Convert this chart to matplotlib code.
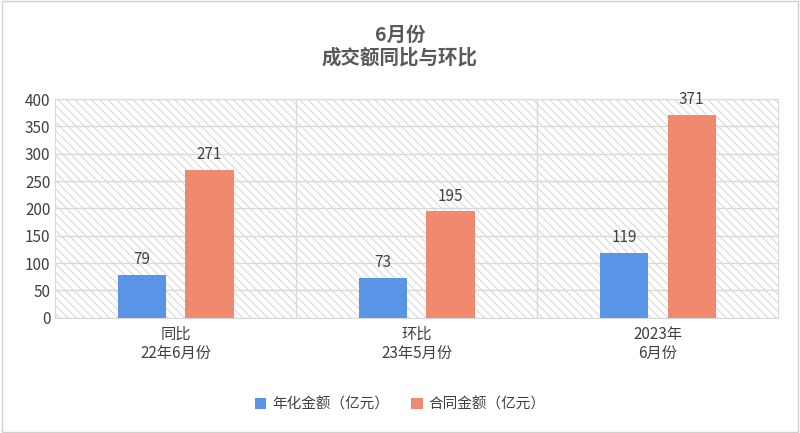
import matplotlib
matplotlib.use("Agg")
import matplotlib.pyplot as plt
import numpy as np
from matplotlib.patches import Rectangle

plt.rcParams['font.family'] = ['Noto Sans CJK SC', 'DejaVu Sans']

categories = ["同比\n22年6月份", "环比\n23年5月份", "2023年\n6月份"]
annual = [79, 73, 119]
contract = [271, 195, 371]
series_names = ["年化金额（亿元）", "合同金额（亿元）"]
blue = "#5b94e6"
orange = "#f08a6f"

fig = plt.figure(figsize=(8, 4.33), dpi=100)
fig.patch.set_facecolor("white")
fig.add_artist(Rectangle((0.002, 0.002), 0.996, 0.996, transform=fig.transFigure,
                         fill=False, edgecolor="#d0d0d0", lw=1))
ax = fig.add_axes([0.069, 0.266, 0.904, 0.505])
plt.rcParams['hatch.color'] = '#d9d9d9'
plt.rcParams['hatch.linewidth'] = 0.8
ax.add_patch(Rectangle((0, 0), 1, 1, transform=ax.transAxes, facecolor="white",
                       hatch="\\\\\\\\", edgecolor="#d9d9d9", lw=0, zorder=0))
x = np.arange(len(categories))
w = 0.2
b1 = ax.bar(x - 0.14, annual, w, color=blue, zorder=3, label=series_names[0])
b2 = ax.bar(x + 0.14, contract, w, color=orange, zorder=3, label=series_names[1])
for bars in (b1, b2):
    for r in bars:
        ax.text(r.get_x() + r.get_width() / 2, r.get_height() + 12, f"{int(r.get_height())}",
                ha="center", va="bottom", fontsize=11, color="#404040", zorder=4)
ax.set_xlim(-0.5, 2.5)
ax.set_ylim(0, 400)
ax.set_yticks(range(0, 401, 50))
ax.set_xticks(x)
ax.set_xticklabels(categories, fontsize=11, color="#404040", linespacing=1.2)
ax.tick_params(axis="y", labelsize=11, colors="#404040", length=0)
ax.tick_params(axis="x", length=0, pad=6)
ax.grid(axis="y", color="#d9d9d9", lw=1, zorder=1)
for xv in (0.5, 1.5):
    ax.axvline(xv, color="#d9d9d9", lw=1, zorder=1)
for s in ax.spines.values():
    s.set_color("#d9d9d9")
ax.spines["top"].set_visible(False)
fig.text(0.5, 0.94, "6月份\n成交额同比与环比", ha="center", va="top", fontsize=14,
         fontweight="bold", color="#595959", linespacing=1.2)
fig.legend(handles=[b1, b2], loc="center", bbox_to_anchor=(0.5, 0.065), ncol=2,
           frameon=False, fontsize=10.5, handlelength=0.8, handleheight=0.8,
           columnspacing=1.5, handletextpad=0.4, labelcolor="#404040")
fig.savefig("out.png", dpi=100, facecolor="white")
